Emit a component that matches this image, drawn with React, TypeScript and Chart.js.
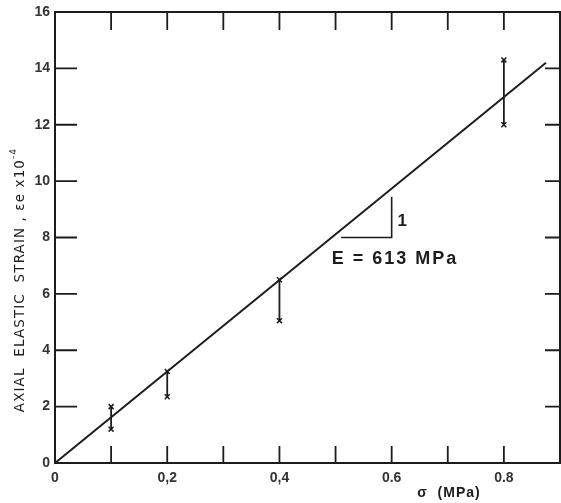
import React, { useEffect, useRef } from "react";
import { Chart, registerables } from "chart.js";

Chart.register(...registerables);

// ---- Data ----
const fitLineX = [0, 0.875];
const fitLineY = [0, 14.2];

const barX = [0.1, 0.2, 0.4, 0.8];
const barLow = [1.2, 2.35, 5.05, 12.0];
const barHigh = [2.0, 3.25, 6.5, 14.3];

const triangleX = [0.51, 0.6, 0.6];
const triangleY = [8.0, 8.0, 9.45];

const xTickLabels = ["0", "", "0,2", "", "0,4", "", "0.6", "", "0.8", ""];
const yTickLabels = ["0", "2", "4", "6", "8", "10", "12", "14", "16"];

const xTitle = "σ  (MPa)";
const yTitle = "AXIAL  ELASTIC  STRAIN , εe x10";
const slopeLabel = "1";
const modulusLabel = "E = 613 MPa";

const INK = "#1c1c1c";

const framePlugin = {
  id: "framePlugin",
  afterDatasetsDraw(chart: any) {
    const { ctx, chartArea, scales } = chart;
    const { left, right, top, bottom } = chartArea;
    const xs = scales.x;
    const ys = scales.y;
    ctx.save();
    ctx.strokeStyle = INK;
    ctx.lineWidth = 2;
    ctx.strokeRect(left, top, right - left, bottom - top);
    ctx.lineWidth = 1.8;
    xs.ticks.forEach((t: any) => {
      const px = xs.getPixelForValue(t.value);
      if (px <= left + 1 || px >= right - 1) return;
      ctx.beginPath();
      ctx.moveTo(px, bottom);
      ctx.lineTo(px, bottom - 17);
      ctx.moveTo(px, top);
      ctx.lineTo(px, top + 18);
      ctx.stroke();
    });
    ys.ticks.forEach((t: any) => {
      const py = ys.getPixelForValue(t.value);
      if (py >= bottom - 1 || py <= top + 1) return;
      ctx.beginPath();
      ctx.moveTo(left, py);
      ctx.lineTo(left + 22, py);
      ctx.moveTo(right, py);
      ctx.lineTo(right - 15, py);
      ctx.stroke();
    });
    ctx.fillStyle = INK;
    ctx.textAlign = "center";
    ctx.textBaseline = "middle";
    ctx.font = "bold 17px 'Liberation Sans', Arial, sans-serif";
    ctx.fillText(slopeLabel, xs.getPixelForValue(0.619), ys.getPixelForValue(8.58));
    (ctx as any).letterSpacing = "2px";
    ctx.font = "bold 18px 'Liberation Sans', Arial, sans-serif";
    ctx.fillText(modulusLabel, xs.getPixelForValue(0.606), ys.getPixelForValue(7.22));
    (ctx as any).letterSpacing = "1px";
    ctx.font = "bold 14px 'Liberation Sans', Arial, sans-serif";
    ctx.fillText(xTitle, 449, 493);
    ctx.translate(20, 280);
    ctx.rotate(-Math.PI / 2);
    (ctx as any).letterSpacing = "1.1px";
    ctx.font = "500 13.5px 'DejaVu Sans', sans-serif";
    const w = ctx.measureText(yTitle).width;
    ctx.font = "9px 'DejaVu Sans', sans-serif";
    const ws = ctx.measureText("-4").width;
    const total = w + ws;
    ctx.textAlign = "left";
    ctx.font = "500 13.5px 'DejaVu Sans', sans-serif";
    ctx.fillText(yTitle, -total / 2, 0);
    ctx.font = "9px 'DejaVu Sans', sans-serif";
    ctx.fillText("-4", -total / 2 + w, -6);
    ctx.restore();
  },
};

const bgPlugin = {
  id: "bgPlugin",
  beforeDraw(chart: any) {
    const { ctx } = chart;
    ctx.save();
    ctx.fillStyle = "#ffffff";
    ctx.fillRect(0, 0, chart.width, chart.height);
    ctx.restore();
  },
};

export default function App() {
  const ref = useRef<HTMLCanvasElement | null>(null);
  useEffect(() => {
    if (!ref.current) return;
    const datasets: any[] = [];
    datasets.push({
      data: fitLineX.map((x, i) => ({ x, y: fitLineY[i] })),
      borderColor: INK,
      borderWidth: 2,
      pointRadius: 0,
      showLine: true,
    });
    barX.forEach((x, i) => {
      datasets.push({
        data: [
          { x, y: barLow[i] },
          { x, y: barHigh[i] },
        ],
        borderColor: INK,
        borderWidth: 1.8,
        pointStyle: "crossRot",
        pointRadius: 3.5,
        pointBorderWidth: 1.5,
        pointBorderColor: INK,
        showLine: true,
      });
    });
    datasets.push({
      data: triangleX.map((x, i) => ({ x, y: triangleY[i] })),
      borderColor: INK,
      borderWidth: 1.6,
      pointRadius: 0,
      showLine: true,
    });

    const tickFont = { family: "'Liberation Sans', Arial, sans-serif", size: 14, weight: "bold" };
    const chart = new Chart(ref.current, {
      type: "scatter",
      data: { datasets },
      plugins: [bgPlugin, framePlugin],
      options: {
        animation: false,
        responsive: false,
        maintainAspectRatio: false,
        layout: { autoPadding: false, padding: { top: 12, right: 1, left: 0, bottom: 0 } },
        plugins: { legend: { display: false }, tooltip: { enabled: false } },
        scales: {
          x: {
            type: "linear",
            min: 0,
            max: 0.9,
            grid: { display: false, tickLength: 0 },
            border: { display: false },
            afterFit: (s: any) => {
              s.height = 40;
              s.paddingLeft = 0;
              s.paddingRight = 0;
            },
            afterBuildTicks: (s: any) => {
              s.ticks = xTickLabels.map((_, i) => ({ value: i / 10 }));
            },
            ticks: {
              padding: 7,
              color: "#333",
              font: tickFont,
              maxRotation: 0,
              autoSkip: false,
              callback: (_v: any, i: number) => xTickLabels[i] ?? "",
            },
          },
          y: {
            type: "linear",
            min: 0,
            max: 16,
            grid: { display: false, tickLength: 0 },
            border: { display: false },
            afterFit: (s: any) => {
              s.width = 55;
              s.paddingTop = 0;
              s.paddingBottom = 0;
            },
            afterBuildTicks: (s: any) => {
              s.ticks = yTickLabels.map((_, i) => ({ value: i * 2 }));
            },
            ticks: {
              padding: 5,
              color: "#333",
              font: tickFont,
              autoSkip: false,
              callback: (_v: any, i: number) => yTickLabels[i] ?? "",
            },
          },
        },
      },
    } as any);
    return () => chart.destroy();
  }, []);
  return (
    <div style={{ position: "fixed", left: 0, top: 0, width: 561, height: 503, background: "#fff" }}>
      <canvas ref={ref} width={561} height={503} style={{ width: 561, height: 503, display: "block" }} />
    </div>
  );
}
